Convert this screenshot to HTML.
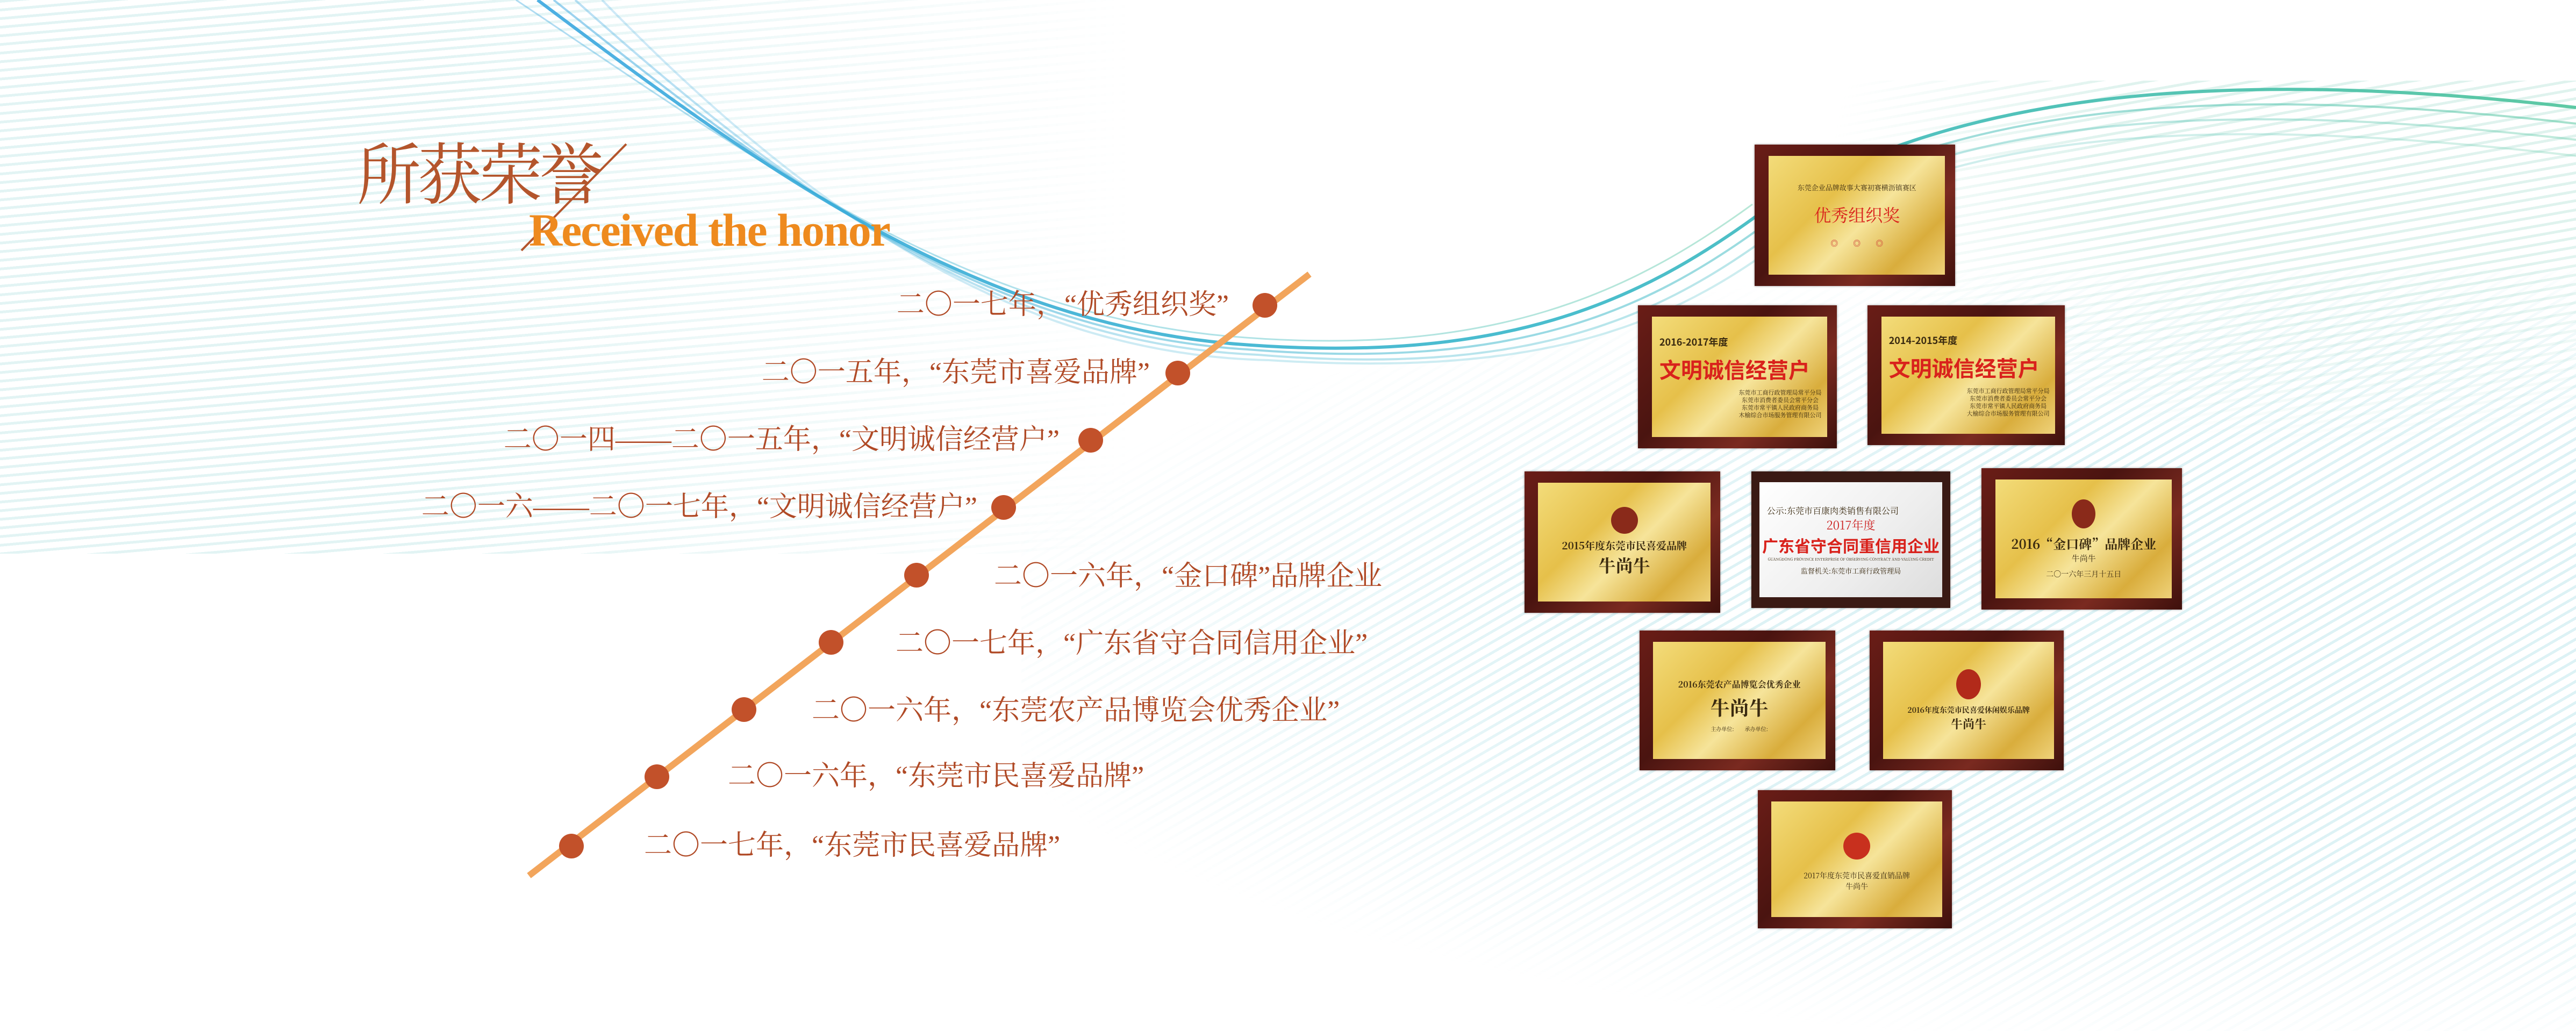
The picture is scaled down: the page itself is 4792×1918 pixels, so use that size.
<!DOCTYPE html>
<html><head><meta charset="utf-8"><style>
html,body{margin:0;padding:0}
body{width:4792px;height:1918px;position:relative;overflow:hidden;background:#fff;font-family:"Liberation Serif","Noto Serif CJK SC",serif}
.bg{position:absolute}
.t{position:absolute;font-family:"Liberation Serif","Noto Serif CJK SC",serif;font-size:52px;color:#b04a26;white-space:nowrap;line-height:60px;transform:translateY(-30px)}
.dot{position:absolute;width:46px;height:46px;border-radius:50%;background:#c2512a;margin:-23px 0 0 -23px}
.p{position:absolute;background:linear-gradient(135deg,#6a1d17,#4a1410 40%,#7a2a20 70%,#3e100c);box-shadow:0 0 4px rgba(0,0,0,.4)}
.g{position:absolute;left:7%;top:8%;right:5%;bottom:8%;background:linear-gradient(135deg,#f3dc7a,#e6c04a 35%,#f6e49a 55%,#d9ad3c 80%,#efd27a);display:flex;flex-direction:column;align-items:center;justify-content:center;text-align:center;font-family:"Noto Serif CJK SC",serif;color:#3a2a10;overflow:hidden}
.red{color:#d9221c;font-weight:bold;white-space:nowrap}
.s{font-size:14px;line-height:18px}
</style></head><body>
<div class="bg" style="left:0;top:0;width:2100px;height:1030px;background:repeating-linear-gradient(175deg,rgba(150,215,215,.28) 0 5px,transparent 5px 16px);-webkit-mask-image:linear-gradient(90deg,#000 40%,transparent 100%);mask-image:linear-gradient(90deg,#000 40%,transparent 100%)"></div>
<div class="bg" style="left:1900px;top:500px;width:2892px;height:1418px;background:repeating-linear-gradient(150deg,rgba(150,215,225,.32) 0 5px,transparent 5px 17px);-webkit-mask-image:radial-gradient(ellipse at 85% 50%,#000 40%,transparent 75%);mask-image:radial-gradient(ellipse at 85% 50%,#000 40%,transparent 75%)"></div>
<div class="bg" style="left:3400px;top:150px;width:1392px;height:700px;background:repeating-linear-gradient(170deg,rgba(150,215,200,.3) 0 5px,transparent 5px 17px);-webkit-mask-image:radial-gradient(ellipse at 70% 20%,#000 35%,transparent 70%);mask-image:radial-gradient(ellipse at 70% 20%,#000 35%,transparent 70%)"></div>
<svg class="bg" style="left:0;top:0" width="4792" height="1918" viewBox="0 0 4792 1918">
<defs><linearGradient id="w" x1="0" y1="0" x2="1" y2="0"><stop offset="0" stop-color="#3aa7e0"/><stop offset=".5" stop-color="#36b6c8"/><stop offset="1" stop-color="#4cc39a"/></linearGradient></defs>
<g fill="none" stroke="url(#w)">
<path d="M1000 0 C1400 300 1800 600 2300 640 C2800 680 3050 560 3270 400 C3600 180 4100 120 4792 200" stroke-width="6" opacity=".9"/>
<path d="M1030 0 C1430 320 1820 620 2320 650 C2820 690 3060 580 3280 420 C3610 200 4100 150 4792 230" stroke-width="4" opacity=".5"/>
<path d="M1070 0 C1460 350 1850 640 2340 660 C2830 700 3070 600 3290 440 C3620 220 4100 180 4792 260" stroke-width="4" opacity=".35"/>
<path d="M1120 0 C1490 380 1880 660 2360 670 C2840 700 3080 620 3300 460 C3630 240 4100 210 4792 290" stroke-width="4" opacity=".25"/>
<path d="M960 0 C1380 280 1780 580 2280 625 C2780 670 3040 540 3260 380" stroke-width="3" opacity=".4"/>
</g>
<line x1="984" y1="1629" x2="2436" y2="510" stroke="#f2a55c" stroke-width="12"/>
<line x1="1165" y1="268" x2="970" y2="466" stroke="#b4552c" stroke-width="4"/>
</svg>
<div style="position:absolute;left:664px;top:246px;font-family:'Noto Serif CJK SC',serif;font-size:124px;line-height:140px;color:#b4552c;letter-spacing:-6px;white-space:nowrap;transform:scaleX(.96);transform-origin:left">所获荣誉</div>
<div style="position:absolute;left:984px;top:380px;font-family:'Liberation Serif',serif;font-weight:bold;font-size:86px;line-height:96px;color:#ee8a1e;letter-spacing:-2px;white-space:nowrap">Received the honor</div>
<div class="dot" style="left:2353px;top:568px"></div>
<div class="dot" style="left:2191px;top:694px"></div>
<div class="dot" style="left:2029px;top:819px"></div>
<div class="dot" style="left:1867px;top:944px"></div>
<div class="dot" style="left:1705px;top:1070px"></div>
<div class="dot" style="left:1546px;top:1195px"></div>
<div class="dot" style="left:1384px;top:1320px"></div>
<div class="dot" style="left:1222px;top:1445px"></div>
<div class="dot" style="left:1063px;top:1574px"></div>
<div class="t" style="right:2506px;top:568px">二〇一七年，“优秀组织奖”</div>
<div class="t" style="right:2653px;top:694px">二〇一五年，“东莞市喜爱品牌”</div>
<div class="t" style="right:2821px;top:819px">二〇一四——二〇一五年，“文明诚信经营户”</div>
<div class="t" style="right:2974px;top:944px">二〇一六——二〇一七年，“文明诚信经营户”</div>
<div class="t" style="left:1849px;top:1073px">二〇一六年，“金口碑”品牌企业</div>
<div class="t" style="left:1666px;top:1198px">二〇一七年，“广东省守合同信用企业”</div>
<div class="t" style="left:1510px;top:1323px">二〇一六年，“东莞农产品博览会优秀企业”</div>
<div class="t" style="left:1354px;top:1445px">二〇一六年，“东莞市民喜爱品牌”</div>
<div class="t" style="left:1198px;top:1574px">二〇一七年，“东莞市民喜爱品牌”</div>

<div class="p" style="left:3264px;top:269px;width:373px;height:263px"><div class="g"><div class="s" style="font-size:13px">东莞企业品牌故事大赛初赛横沥镇赛区</div><div class="red" style="font-size:32px;margin:18px 0 22px;font-weight:normal">优秀组织奖</div><div class="s" style="color:#c33">◎　　◎　　◎</div></div></div>
<div class="p" style="left:3047px;top:568px;width:370px;height:266px"><div class="g" style="align-items:flex-start;padding-left:14px"><div style="font-size:18px;font-weight:bold;font-family:'Noto Sans CJK SC',sans-serif">2016-2017年度</div><div class="red" style="font-size:40px;font-family:'Noto Sans CJK SC',sans-serif;margin:8px 0">文明诚信经营户</div><div class="s" style="font-size:11px;line-height:14px;align-self:flex-end;margin-right:10px">东莞市工商行政管理局常平分局<br>东莞市消费者委员会常平分会<br>东莞市常平镇人民政府商务局<br>木榆综合市场服务管理有限公司</div></div></div>
<div class="p" style="left:3474px;top:568px;width:367px;height:260px"><div class="g" style="align-items:flex-start;padding-left:14px"><div style="font-size:18px;font-weight:bold;font-family:'Noto Sans CJK SC',sans-serif">2014-2015年度</div><div class="red" style="font-size:40px;font-family:'Noto Sans CJK SC',sans-serif;margin:8px 0">文明诚信经营户</div><div class="s" style="font-size:11px;line-height:14px;align-self:flex-end;margin-right:10px">东莞市工商行政管理局常平分局<br>东莞市消费者委员会常平分会<br>东莞市常平镇人民政府商务局<br>大榆综合市场服务管理有限公司</div></div></div>
<div class="p" style="left:2836px;top:877px;width:364px;height:263px"><div class="g"><div style="width:50px;height:50px;border-radius:50%;background:#8a2a1a"></div><div style="font-size:19px;font-weight:bold;margin-top:8px">2015年度东莞市民喜爱品牌</div><div style="font-size:32px;font-weight:bold">牛尚牛</div></div></div>
<div class="p" style="left:3258px;top:877px;width:370px;height:254px;background:#3a1a14"><div class="g" style="background:linear-gradient(135deg,#fff,#eee 60%,#ddd);left:4%;right:4%"><div style="font-size:16px;align-self:flex-start;margin-left:14px">公示:东莞市百康肉类销售有限公司</div><div style="color:#c22;font-size:22px">2017年度</div><div class="red" style="font-size:30px;font-family:'Noto Sans CJK SC',sans-serif">广东省守合同重信用企业</div><div style="font-size:7px;white-space:nowrap">GUANGDONG PROVINCE ENTERPRISE OF OBSERVING CONTRACT AND VALUING CREDIT</div><div style="font-size:13px;margin-top:6px">监督机关:东莞市工商行政管理局</div></div></div>
<div class="p" style="left:3686px;top:871px;width:373px;height:263px"><div class="g"><div style="width:44px;height:54px;border-radius:50%;background:#8a2a1a"></div><div style="font-size:24px;font-weight:bold;margin-top:10px">2016“金口碑”品牌企业</div><div style="font-size:15px">牛尚牛</div><div class="s" style="margin-top:10px">二〇一六年三月十五日</div></div></div>
<div class="p" style="left:3050px;top:1173px;width:364px;height:260px"><div class="g"><div style="font-size:16px;font-weight:bold;margin-top:20px">2016东莞农产品博览会优秀企业</div><div style="font-size:36px;font-weight:bold;margin:6px 0">牛尚牛</div><div class="s" style="font-size:10px">主办单位:　　承办单位:</div></div></div>
<div class="p" style="left:3478px;top:1173px;width:361px;height:260px"><div class="g"><div style="width:46px;height:56px;border-radius:50%;background:#b22a1a"></div><div style="font-size:14px;font-weight:bold;margin-top:10px">2016年度东莞市民喜爱休闲娱乐品牌</div><div style="font-size:22px;font-weight:bold">牛尚牛</div></div></div>
<div class="p" style="left:3270px;top:1470px;width:361px;height:257px"><div class="g"><div style="width:50px;height:50px;border-radius:50%;background:#c8301e;margin-top:10px"></div><div style="font-size:14px;margin-top:20px">2017年度东莞市民喜爱直销品牌</div><div style="font-size:14px">牛尚牛</div></div></div>
</body></html>
